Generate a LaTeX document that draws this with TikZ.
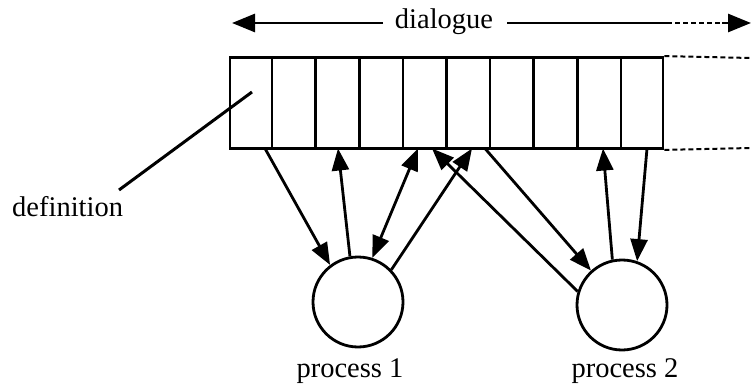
\documentclass[tikz,border=0pt]{standalone}
\usepackage{fontspec}
\setmainfont{Liberation Serif}
\usetikzlibrary{arrows.meta,calc}
\tikzset{
  lbl/.style={font=\fontsize{28.5}{32}\selectfont, inner sep=0pt},
  proc/.style={circle, draw, line width=2.8pt, minimum size=90pt, inner sep=0pt},
  cellbox/.style={draw, line width=2.8pt, minimum width=433pt, minimum height=91pt, inner sep=0pt},
  conn/.style={line width=2.8pt, -{Triangle[length=22pt,width=17pt]}},
  dconn/.style={line width=2.8pt, {Triangle[length=22pt,width=17pt]}-{Triangle[length=22pt,width=17pt]}},
  dashln/.style={line width=2pt, dash pattern=on 5pt off 3pt},
  bigtip/.style={line width=2.8pt, -{Triangle[length=23pt,width=18pt]}}
}
\begin{document}
\begin{tikzpicture}[x=1pt,y=-1pt]
\useasboundingbox (0,0) rectangle (751,387);
% dialogue arrow
\node[lbl, anchor=base] (dlg) at (444,29) {dialogue};
\coordinate (dl) at (232,23);
\coordinate (dr1) at (667,23);
\coordinate (dr2) at (722,23);
\coordinate (dr) at (751,23);
\coordinate (dlw) at (383,23);
\coordinate (dle) at (507,23);
\draw[bigtip] (dlw) -- (dl);
\draw[line width=2.8pt] (dle) -- (dr1);
\draw[dashln] (dr1) -- (dr2);
\draw[bigtip] (dr2) -- (dr);
% box of cells
\node[cellbox] (box) at (446.5,103) {};
\foreach \i in {1,...,9}{
  \draw[line width=2.6pt] ($(box.north west)!\i/10!(box.north east)$) -- ($(box.south west)!\i/10!(box.south east)$);
}
\coordinate (dtr) at (751,58);
\coordinate (dbr) at (751,148);
\draw[dashln] (box.north east) -- (dtr);
\draw[dashln] (box.south east) -- (dbr);
% definition
\node[lbl, anchor=base west] (def) at (12,216) {definition};
\coordinate (defout) at (119,190);
\coordinate (defin) at (252,92);
\draw[line width=3pt] (defout) -- (defin);
% processes
\node[proc] (p1) at (358,302) {};
\node[proc] (p2) at (622,305) {};
\node[lbl, anchor=base] (l1) at (350,377) {process 1};
\node[lbl, anchor=base] (l2) at (625,377) {process 2};
% connection points on the box
\coordinate (b1) at (265,148.5);
\coordinate (b2) at (338,148.5);
\coordinate (b3) at (418,148.5);
\coordinate (b4) at (472,148.5);
\coordinate (b5) at (432,148.5);
\coordinate (b6) at (485,148.5);
\coordinate (b7) at (603,148.5);
\coordinate (b8) at (647,148.5);
\draw[conn] (b1) -- (p1.127);
\draw[conn] (p1.100) -- (b2);
\draw[dconn] (p1.72) -- (b3);
\draw[conn] (p1.44) -- (b4);
\draw[conn] (p2.163) -- (b5);
\draw[conn] (b6) -- (p2.132);
\draw[conn] (p2.102) -- (b7);
\draw[conn] (b8) -- (p2.71);
\end{tikzpicture}
\end{document}
